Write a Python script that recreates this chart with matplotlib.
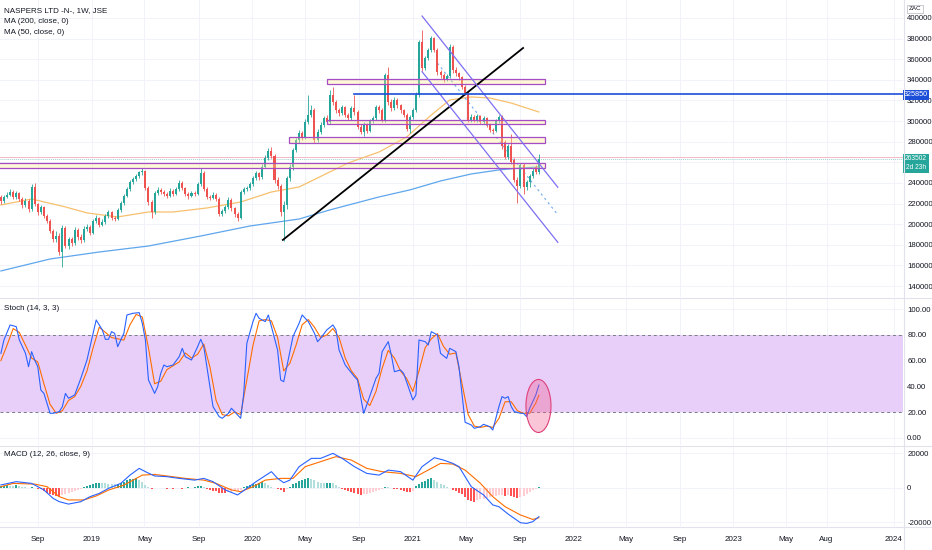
import numpy as np
import pandas as pd
import matplotlib
matplotlib.use("Agg")
import matplotlib.pyplot as plt
import matplotlib.dates as mdates
from matplotlib.patches import Rectangle, Ellipse
from matplotlib.lines import Line2D

plt.rcParams['font.family'] = ['Liberation Sans', 'DejaVu Sans']

# ---------------------------------------------------------------- data
# weekly candles, prices in thousands of ZAc
first_week = "2018-06-08"
opens = [226, 222.5, 226.6, 228.7, 231, 226, 230, 224.5, 218.6, 222.5,
         214.7, 236, 219.6, 211.8, 216.7, 208, 203, 193.4, 185.6, 188.5,
         173, 196.4, 179, 185.6, 181.7, 194.4, 187.6, 184.7, 195.3, 197.3,
         191.5, 203, 206, 199.3, 202, 208, 211.8, 206, 205, 213.8,
         220.5, 227.3, 234, 241, 243.8, 246.7, 250.6, 251.6, 235, 221.5,
         211.8, 230.2, 233.2, 231.2, 229.3, 227.3, 232.2, 229.3, 234, 240,
         235, 229.3, 227.3, 230.2, 229.3, 239, 249.6, 234, 226.4, 225.4,
         228.3, 224.5, 210, 212.8, 216.7, 223.5, 215.7, 210, 206, 231.2,
         234, 235, 239, 244.8, 249.6, 245.8, 255.5, 264.2, 271, 266.1,
         242.9, 237, 211.8, 218.6, 244.8, 255.5, 272, 281.7, 288.5, 284.6,
         299.1, 306, 310.8, 281.7, 289.5, 296.2, 303, 299, 325.3, 318.5,
         310.8, 307.8, 313.7, 306, 303, 312.7, 308.8, 294.3, 289.5, 296.2,
         290.4, 300.1, 303, 313.7, 310.8, 301, 344.7, 318.5, 312.7, 320.5,
         315.6, 310.8, 306, 292, 304, 310.8, 325.3, 376.7, 351.5, 361.2,
         369, 380.6, 369, 347.6, 344.7, 340.8, 343.7, 371.9, 349.6, 346.7,
         342.8, 333.1, 327.3, 301, 304, 301, 304.9, 299.1, 303, 296.2,
         291.4, 290.4, 300.1, 304, 280, 265, 276, 262, 243, 237,
         257, 236, 241, 247, 255, 251]
highs = [228, 228, 231, 234, 233, 232, 231, 226, 225, 224,
         239, 240, 221, 219, 218, 210, 205, 195, 193, 191,
         199, 198, 188, 188, 197, 196, 190, 198, 200, 199,
         205, 209, 207, 205, 210, 214, 213, 208, 216, 222,
         229, 236, 243, 246, 249, 252, 254, 253, 237, 223,
         232, 236, 235, 233, 231, 235, 234, 236, 243, 242,
         236, 231, 232, 232, 241, 254, 252, 236, 228, 231,
         230, 226, 215, 219, 226, 225, 217, 212, 233, 236,
         237, 241, 247, 252, 251, 258, 267, 274, 275, 268,
         246, 239, 222, 247, 258, 274, 284, 291, 290, 302,
         325, 316, 313, 292, 299, 305, 306, 330, 333, 320,
         313, 316, 315, 308, 315, 325, 311, 297, 299, 298,
         302, 305, 316, 316, 313, 347, 352, 321, 323, 322,
         317, 312, 308, 306, 313, 328, 379, 388.4, 363, 371,
         383, 382, 371, 350, 347, 346, 375, 374, 352, 348,
         344, 335, 329, 307, 306, 307, 306, 305, 304, 298,
         293, 302, 306, 306, 282, 278, 287, 264, 246, 259,
         259, 243, 249, 254, 257, 268]
lows = [220, 221, 225, 227, 224, 224, 222, 216, 217, 212,
        213, 218, 209, 210, 206, 201, 191, 183, 183, 170,
        158.5, 177, 176, 179, 180, 185, 182, 183, 193, 189,
        190, 201, 197, 198, 200, 206, 204, 203, 204, 212,
        219, 226, 232, 239, 242, 245, 248, 233, 219, 206,
        210, 228, 229, 227, 225, 226, 227, 228, 232, 233,
        227, 224, 226, 227, 228, 237, 232, 224, 223, 224,
        222, 208, 208, 211, 215, 213, 207, 203, 205, 229,
        232, 233, 237, 243, 243, 244, 254, 262, 264, 240,
        234, 208, 184, 215, 242, 253, 270, 279, 282, 283,
        297, 304, 279, 280, 287, 294, 297, 297, 316, 308,
        305, 306, 304, 301, 301, 306, 292, 287, 286, 288,
        289, 298, 301, 308, 299, 299, 316, 310, 311, 313,
        308, 304, 290, 288, 302, 309, 323, 349, 350, 359,
        367, 367, 345, 342, 338, 339, 342, 347, 344, 340,
        331, 325, 299, 299, 299, 299, 297, 297, 294, 289,
        288, 289, 298, 273, 263, 263, 258, 241, 221, 235,
        229, 233, 236, 245, 249, 249]
closes = [222.5, 226.6, 228.7, 231, 226, 230, 224.5, 218.6, 222.5, 214.7,
          236, 219.6, 211.8, 216.7, 208, 203, 193.4, 185.6, 188.5, 173,
          196.4, 179, 185.6, 181.7, 194.4, 187.6, 184.7, 195.3, 197.3, 191.5,
          203, 206, 199.3, 202, 208, 211.8, 206, 205, 213.8, 220.5,
          227.3, 234, 241, 243.8, 246.7, 250.6, 251.6, 235, 221.5, 211.8,
          230.2, 233.2, 231.2, 229.3, 227.3, 232.2, 229.3, 234, 240, 235,
          229.3, 227.3, 230.2, 229.3, 239, 249.6, 234, 226.4, 225.4, 228.3,
          224.5, 210, 212.8, 216.7, 223.5, 215.7, 210, 206, 231.2, 234,
          235, 239, 244.8, 249.6, 245.8, 255.5, 264.2, 271, 266.1, 242.9,
          237, 211.8, 218.6, 244.8, 255.5, 272, 281.7, 288.5, 284.6, 299.1,
          306, 310.8, 281.7, 289.5, 296.2, 303, 299, 325.3, 318.5, 310.8,
          307.8, 313.7, 306, 303, 312.7, 308.8, 294.3, 289.5, 296.2, 290.4,
          300.1, 303, 313.7, 310.8, 301, 344.7, 318.5, 312.7, 320.5, 315.6,
          310.8, 306, 292, 304, 310.8, 325.3, 376.7, 351.5, 361.2, 369,
          380.6, 369, 347.6, 344.7, 340.8, 343.7, 371.9, 349.6, 346.7, 342.8,
          333.1, 327.3, 301, 304, 301, 304.9, 299.1, 303, 296.2, 291.4,
          290.4, 300.1, 304, 276, 265, 276, 260, 243, 237, 257,
          236, 241, 247, 252, 251, 263.502]

# moving averages read at a few weeks (week index, thousands)
ma200_weeks = [0, 16, 32, 48, 65, 81, 97, 107, 123, 133, 143, 153, 162, 169, 175]
ma200_vals = [154.6, 166.2, 173.0, 178.8, 188.5, 198.2, 205.0, 213.8, 226.4,
              233.2, 241.9, 248.7, 252.6, 254.5, 255.5]
ma50_weeks = [0, 10, 21, 28, 38, 48, 56, 67, 78, 88, 97, 101, 113, 123, 132,
              140, 146, 153, 159, 166, 175]
ma50_vals = [218.6, 224.4, 216.7, 210.9, 207.0, 211.8, 211.8, 215.7, 221.5,
             231.2, 236.1, 241.9, 259.4, 270.0, 284.6, 305.9, 320.5, 323.4,
             322.4, 317.5, 308.8]

# stochastic %K / %D
k_weeks = [0, 1, 3, 5, 6, 8, 9, 10, 11, 12, 13, 14, 15, 16, 17, 19, 20, 21, 22,
           24, 26, 28, 30, 31, 33, 34, 35, 36, 37, 38, 40, 41, 43, 45, 46, 47,
           48, 50, 51, 52, 53, 54, 56, 58, 59, 60, 62, 64, 65, 66, 68, 69, 71,
           72, 74, 75, 76, 78, 79, 80, 82, 83, 84, 86, 87, 88, 90, 91, 92, 93,
           95, 97, 98, 100, 102, 103, 104, 106, 108, 109, 110, 112, 115, 116,
           118, 119, 122, 123, 124, 126, 127, 128, 130, 131, 134, 135, 136,
           138, 139, 140, 142, 143, 145, 146, 148, 149, 151, 153, 154, 156,
           157, 159, 160, 162, 163, 164, 165, 166, 167, 169, 170, 171, 172,
           174, 175]
k_vals = [65.7, 76.1, 87.8, 86.5, 76.1, 65.7, 55.3, 67.0, 60.5, 55.3, 37.1,
          34.5, 26.8, 19.0, 19.0, 20.3, 24.2, 34.5, 30.7, 33.3, 46.2, 60.5,
          81.3, 91.7, 83.9, 76.6, 76.6, 82.6, 81.3, 70.9, 81.3, 95.6, 96.9,
          97.4, 89.1, 76.1, 45.0, 34.5, 39.7, 50.1, 56.6, 55.3, 56.6, 63.1,
          69.6, 63.1, 60.5, 70.9, 76.6, 70.9, 39.7, 24.2, 16.4, 15.1, 19.0,
          22.9, 20.3, 15.1, 34.5, 73.5, 90.4, 96.9, 93.0, 90.4, 95.6, 86.5,
          68.3, 45.0, 43.6, 55.3, 78.7, 89.1, 95.6, 90.4, 81.3, 74.8, 77.4,
          83.9, 87.8, 83.9, 68.3, 56.6, 47.5, 45.0, 19.0, 25.5, 46.2, 50.1,
          67.0, 74.8, 64.4, 51.4, 52.7, 50.1, 29.4, 33.3, 76.1, 74.8, 72.2,
          82.6, 80.0, 65.7, 61.8, 69.6, 67.0, 55.3, 12.0, 9.9, 7.3, 8.6, 10.4,
          8.6, 6.0, 24.2, 32.0, 30.7, 32.0, 24.2, 20.3, 19.0, 19.0, 16.4, 22.9,
          33.3, 41.0]
d_weeks = list(range(0, 176, 2)) + [175]
d_vals = [60, 72, 85, 82, 72, 62, 59, 42, 26, 19, 21, 29, 32, 40, 52, 70, 86,
          82, 78, 77, 76, 88, 96, 94, 70, 42, 44, 53, 56, 59, 66, 62, 65, 73,
          55, 29, 18, 17, 20, 18, 45, 72, 91, 92, 91, 78, 52, 58, 72, 88, 92,
          86, 78, 80, 85, 78, 62, 52, 46, 30, 25, 36, 54, 68, 62, 52, 46, 36,
          52, 70, 77, 81, 71, 65, 66, 42, 18, 9, 8, 9, 8, 15, 28, 28, 21, 19,
          19, 27, 33]

# MACD (12, 26, 9): lines read at a few weeks, histogram every week (thousands)
macd_weeks = [0, 5, 10, 14, 17, 19, 22, 26, 29, 32, 35, 39, 42, 45, 47, 50, 54,
              58, 63, 66, 69, 73, 77, 80, 83, 88, 90, 92, 94, 97, 101, 104, 108,
              111, 115, 119, 123, 126, 130, 134, 137, 141, 144, 147, 149, 151,
              153, 157, 160, 162, 165, 169, 171, 173, 175]
macd_vals = [1.6, 3.5, 2.5, -1.3, -6.2, -8.1, -9.5, -8.1, -5.2, -3.3, -0.4, 2.5,
             7.3, 11.2, 9.3, 6.8, 6.4, 5.4, 4.4, 5.4, 3.5, -1.3, -4.2, -0.4, 3.5,
             9.3, 5.4, 2.9, 4.4, 12.2, 17.0, 17.0, 19.9, 17.0, 12.2, 8.3, 7.3,
             10.2, 9.3, 4.4, 12.2, 17.4, 16.0, 14.1, 12.2, 6.4, 0.6, -4.2, -10.0,
             -11.0, -15.3, -20.3, -20.7, -19.7, -16.8]
signal_weeks = [0, 4, 11, 15, 19, 22, 27, 31, 35, 40, 43, 46, 50, 54, 60, 66, 70,
                75, 78, 82, 86, 91, 95, 99, 104, 109, 114, 119, 124, 130, 135,
                140, 143, 147, 151, 156, 160, 164, 169, 173, 175]
signal_vals = [0.6, 2.5, 2.1, 0.6, -5.2, -7.1, -7.1, -4.8, -1.4, 1.5, 4.4, 7.3,
               7.7, 6.8, 5.4, 4.4, 2.5, -1.3, -2.3, 0.6, 4.4, 5.4, 5.4, 12.2,
               15.1, 18.0, 16.0, 11.2, 9.3, 8.3, 6.4, 11.2, 14.1, 13.7, 10.2,
               2.5, -5.2, -11.0, -15.8, -18.4, -17.4]
hist_vals = [0.8, 1.2, 1.4, 1.1, 0.9, 1.6, 0.9, 0.3, 0.2, 0.1,
             0.4, -0.3, -0.9, -1.0, -1.8, -2.9, -3.8, -4.3, -5.0, -5.2,
             -4.3, -3.6, -3.0, -2.5, -1.9, -1.2, -0.6, 0.2, 0.9, 1.5,
             2.1, 2.6, 3.0, 2.7, 2.5, 2.3, 2.2, 2.0, 2.3, 2.8,
             3.5, 4.2, 4.8, 5.2, 5.5, 4.6, 3.2, 1.6, 0.3, -0.6,
             -0.3, 0.1, -0.2, 0.1, -0.5, -0.2, -0.6, -0.3, -0.1, -0.5,
             -0.2, 0.2, 0.1, 0.3, 0.7, 0.9, 0.4, -0.6, -1.3, -1.8,
             -2.2, -2.8, -3.1, -3.3, -2.7, -2.5, -2.2, -1.9, -1.1, 0.3,
             1.1, 1.6, 2.0, 2.4, 2.9, 3.4, 2.7, 1.5, 0.5, -0.3,
             -0.8, -1.4, -2.3, -0.9, 0.6, 1.9, 3.0, 3.9, 4.6, 5.3,
             5.8, 5.0, 4.3, 3.5, 2.9, 2.5, 2.7, 3.0, 2.6, 1.4,
             0.4, -0.6, -1.3, -2.0, -2.6, -3.1, -3.6, -4.1, -3.8, -3.4,
             -3.0, -2.6, -1.9, -1.4, -0.6, 0.4, 0.2, -0.4, -0.7, -0.9,
             -1.2, -1.8, -2.4, -2.6, -1.9, 0.8, 2.1, 3.2, 4.1, 4.9,
             5.5, 4.2, 3.1, 2.2, 1.4, 0.6, -0.4, -1.3, -2.0, -2.9,
             -3.8, -5.5, -6.9, -7.6, -8.1, -7.2, -6.8, -6.5, -6.0, -5.5,
             -5.0, -4.6, -4.3, -4.0, -4.6, -4.2, -5.0, -5.6, -6.0, -5.4,
             -4.6, -3.7, -2.7, -1.6, -0.8, 0.6]

# drawings on the price pane: (start date, end date, top, bottom) in thousands
zones = [("2020-06-20", "2021-10-29", 340.8, 336.0),
         ("2020-06-20", "2021-10-29", 301.1, 297.2),
         ("2020-03-25", "2021-10-29", 284.6, 278.7),
         ("2018-05-01", "2021-10-29", 259.3, 254.5)]
trend_line = (("2020-03-11", 184.7), ("2021-09-09", 370.9))
channel_upper = (("2021-01-22", 401.9), ("2021-11-27", 235.8))
channel_lower = (("2021-01-22", 347.9), ("2021-11-27", 182.4))
channel_mid = (("2021-02-26", 356.2), ("2021-11-27", 209.1))
level_price, level_start = 325.85, "2020-08-20"
last_price = 263.502
pink_level = 265.3

price_ticks = list(range(140000, 400001, 20000))
stoch_ticks = [0, 20, 40, 60, 80, 100]
macd_ticks = [-20000, 0, 20000]
month_ticks = ["2018-09-01", "2019-01-01", "2019-05-01", "2019-09-01",
               "2020-01-01", "2020-05-01", "2020-09-01", "2021-01-01",
               "2021-05-01", "2021-09-01", "2022-01-01", "2022-05-01",
               "2022-09-01", "2023-01-01", "2023-05-01", "2023-08-01",
               "2024-01-01"]
month_labels = ["Sep", "2019", "May", "Sep", "2020", "May", "Sep", "2021",
                "May", "Sep", "2022", "May", "Sep", "2023", "May", "Aug", "2024"]

# ---------------------------------------------------------------- layout
W, H = 932, 550
GREEN, RED = "#26a69a", "#ef5350"
TXT = "#131722"
GRID = "#f0f3fa"
SEP = "#e0e3eb"


def fx(px):
    return px / W


def fy(py):
    return 1 - py / H


def d(s):
    return mdates.date2num(pd.Timestamp(s))


dates = mdates.date2num(pd.date_range(first_week, periods=len(closes), freq="7D"))
O = np.array(opens) * 1000
Hh = np.array(highs) * 1000
L = np.array(lows) * 1000
C = np.array(closes) * 1000

fig = plt.figure(figsize=(W / 100, H / 100), dpi=100)
ax_p = fig.add_axes([0, fy(297), fx(903), 297 / H])
ax_s = fig.add_axes([0, fy(445), fx(903), 147 / H])
ax_m = fig.add_axes([0, fy(526), fx(903), 80 / H])

xlim = (d("2018-06-06"), d("2024-01-22"))
ticks_x = [d(t) for t in month_ticks]
for ax in (ax_p, ax_s, ax_m):
    ax.set_xlim(*xlim)
    for sp in ax.spines.values():
        sp.set_visible(False)
    ax.yaxis.tick_right()
    ax.tick_params(axis="y", length=0, pad=3, labelsize=5.6, labelcolor=TXT)
    ax.tick_params(axis="x", length=0)
    ax.set_xticks(ticks_x)
    ax.grid(True, color=GRID, lw=0.7, zorder=0)
    ax.set_axisbelow(True)
ax_p.set_xticklabels([])
ax_s.set_xticklabels([])
ax_m.set_xticklabels(month_labels, fontsize=5.8, color=TXT)
ax_m.tick_params(axis="x", pad=7)

# ---------------------------------------------------------------- price pane
ax_p.set_ylim(129330, 417460)
ax_p.set_yticks(price_ticks)
# the 260000 label sits under the last-price tag, as on the source chart
ax_p.set_yticklabels(["" if t == 260000 else str(t) for t in price_ticks])

for x0, x1, top, bot in zones:
    ax_p.add_patch(Rectangle((d(x0), bot * 1000), d(x1) - d(x0), (top - bot) * 1000,
                             facecolor=(1.0, 0.92, 0.55, 0.35), edgecolor="#a64cc4",
                             lw=0.9, zorder=5))

ax_p.axhline(pink_level * 1000, color="#f5b8c8", lw=0.7, zorder=2)
ax_p.axhline(last_price * 1000, color="#9fd3cd", lw=0.7, ls=(0, (1, 1)), zorder=2)

ax_p.plot([dates[i] for i in ma200_weeks], np.array(ma200_vals) * 1000,
          color="#5fa6ec", lw=0.9, zorder=3)
ax_p.plot([dates[i] for i in ma50_weeks], np.array(ma50_vals) * 1000,
          color="#f7c06e", lw=0.9, zorder=3)

(a, pa), (b, pb) = channel_mid
ax_p.plot([d(a), d(b)], [pa * 1000, pb * 1000], color="#6ea9f0", lw=0.8,
          ls=(0, (2, 3)), zorder=3)

colors = [GREEN if c >= o else RED for o, c in zip(O, C)]
ax_p.vlines(dates, L, Hh, colors=colors, lw=0.6, zorder=4)
body_low = np.minimum(O, C)
body_h = np.maximum(np.abs(C - O), 600)
ax_p.bar(dates, body_h, bottom=body_low, width=4.6, color=colors, lw=0, zorder=4)

for line, col, lw in ((trend_line, "black", 1.3),
                      (channel_upper, "#7d6ff3", 0.9),
                      (channel_lower, "#7d6ff3", 0.9)):
    (a, pa), (b, pb) = line
    ax_p.plot([d(a), d(b)], [pa * 1000, pb * 1000], color=col, lw=lw, zorder=6)

ax_p.plot([d(level_start), xlim[1]], [level_price * 1000] * 2, color="#1b4fd8",
          lw=1.2, zorder=6)

# ---------------------------------------------------------------- stochastic
ax_s.set_ylim(-5.7, 108.8)
ax_s.set_yticks(stoch_ticks)
ax_s.set_yticklabels([f"{t:.2f}" for t in stoch_ticks])
ax_s.axhspan(20, 80, color="#e8cffa", lw=0, zorder=1)
for lvl in (20, 80):
    ax_s.axhline(lvl, color="#787b86", lw=0.7, ls=(0, (3, 3)), zorder=2)
ax_s.plot([dates[i] for i in d_weeks], d_vals, color="#ff6d00", lw=0.8, zorder=3)
ax_s.plot([dates[i] for i in k_weeks], k_vals, color="#2962ff", lw=0.8, zorder=4)
ax_s.add_patch(Ellipse((d("2021-10-14"), 24.7), 57, 41.3,
                       facecolor=(0.95, 0.35, 0.55, 0.35), edgecolor="#e0407a",
                       lw=0.8, zorder=5))

# ---------------------------------------------------------------- MACD
ax_m.set_ylim(-22200, 24170)
ax_m.set_yticks(macd_ticks)
ax_m.set_yticklabels([str(t) for t in macd_ticks])
hist = np.array(hist_vals) * 1000
hcol = []
for i, h in enumerate(hist):
    prev = hist[i - 1] if i else h
    if h >= 0:
        hcol.append("#26a69a" if h >= prev else "#b2dfdb")
    else:
        hcol.append("#ff5252" if h < prev else "#ffcdd2")
ax_m.bar(dates, hist, width=4.6, color=hcol, lw=0, zorder=2)
ax_m.plot([dates[i] for i in signal_weeks], np.array(signal_vals) * 1000,
          color="#ff6d00", lw=0.8, zorder=3)
ax_m.plot([dates[i] for i in macd_weeks], np.array(macd_vals) * 1000,
          color="#2962ff", lw=0.8, zorder=4)

# ---------------------------------------------------------------- frame & labels
for py in (297.5, 445.5, 526.5):
    fig.add_artist(Line2D([0, 1], [fy(py)] * 2, color=SEP, lw=0.8))
fig.add_artist(Line2D([fx(903.5)] * 2, [0, 1], color=SEP, lw=0.8))

fig.text(fx(4), fy(10.5), "NASPERS LTD -N-, 1W, JSE", fontsize=5.8, color=TXT, va="center")
fig.text(fx(4), fy(21.5), "MA (200, close, 0)", fontsize=5.8, color=TXT, va="center")
fig.text(fx(4), fy(32.5), "MA (50, close, 0)", fontsize=5.8, color=TXT, va="center")
fig.text(fx(4), fy(309), "Stoch (14, 3, 3)", fontsize=5.8, color=TXT, va="center")
fig.text(fx(4), fy(455), "MACD (12, 26, close, 9)", fontsize=5.8, color=TXT, va="center")

fig.text(fx(915), fy(9), "ZAC", fontsize=4.5, color=TXT, ha="center", va="center",
         bbox=dict(boxstyle="square,pad=0.25", fc="white", ec="#b2b5be", lw=0.5))

fig.add_artist(Rectangle((fx(903), fy(99.5)), fx(26), 9.5 / H, transform=fig.transFigure,
                         facecolor="#1b4fd8", edgecolor="none"))
fig.text(fx(916), fy(94.8), f"{level_price * 1000:.0f}", fontsize=5.2, color="white",
         ha="center", va="center")
fig.add_artist(Rectangle((fx(903), fy(172.5)), fx(26), 19 / H, transform=fig.transFigure,
                         facecolor=GREEN, edgecolor="none"))
fig.text(fx(916), fy(158.3), f"{last_price * 1000:.0f}", fontsize=4.8, color="white",
         ha="center", va="center")
fig.text(fx(916), fy(167.6), "2d 23h", fontsize=4.8, color="white",
         ha="center", va="center")

fig.savefig("out.png", dpi=100, facecolor="white")
